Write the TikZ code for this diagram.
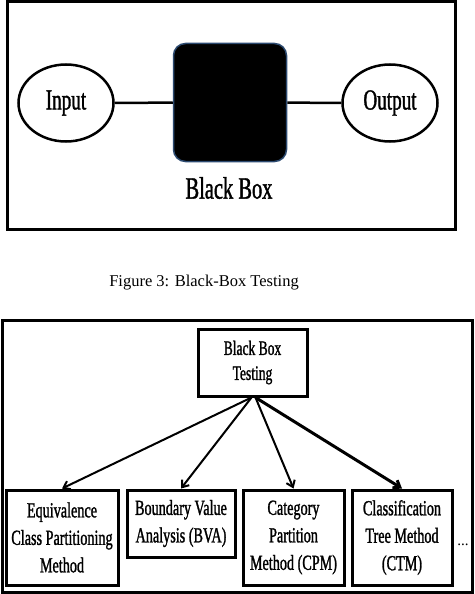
\documentclass[tikz,border=0pt]{standalone}
\usepackage{fontspec}
\setmainfont{Liberation Serif}
\newfontfamily\narrowfont{Liberation Serif}[FakeStretch=0.66,FakeBold=1.2]
\usepackage{xcolor}
\usetikzlibrary{shapes.geometric,arrows.meta}
\definecolor{bbedge}{RGB}{44,74,112}

\begin{document}
\begin{tikzpicture}[x=1pt,y=-1pt,
frame/.style={draw,line width=3pt},
port/.style={ellipse,draw,line width=2.5pt,minimum width=95pt,minimum height=77pt,inner sep=0pt,
  font=\narrowfont\fontsize{29}{33}\selectfont},
method/.style={draw,line width=3pt,inner sep=0pt,align=center,
  font=\narrowfont\fontsize{21.5}{27.5}\selectfont},
link/.style={-{Straight Barb[length=6pt,width=9pt]},line width=2pt}
]
\useasboundingbox (0,0) rectangle (474,594);
\draw[frame] (7,2) rectangle (455,229);
\node[port] (input) at (66,103) {Input};
\node[port] (output) at (390,103) {Output};
\node[draw=bbedge,fill=black,line width=1.5pt,rounded corners=12pt,
  minimum width=113pt,minimum height=118pt] (bb) at (230,102.5) {};
\node[font=\narrowfont\fontsize{31}{35}\selectfont] (bblabel) at (229,188) {Black Box};
\draw[line width=2.5pt] (input) -- (bb);
\draw[line width=2.5pt] (bb) -- (output);
\node[font=\fontsize{16.5}{19}\selectfont] (caption) at (204,283) {Figure 3: Black-Box Testing};
\draw[frame] (2.5,320) rectangle (472.5,592.5);
\node[method,minimum width=109pt,minimum height=67pt,
  font=\narrowfont\fontsize{20.5}{25}\selectfont] (bbt) at (252.5,362.5) {Black Box\\Testing};
\node[method,minimum width=112pt,minimum height=95pt] (ecp) at (62,537.5) {Equivalence\\Class Partitioning\\Method};
\node[method,minimum width=108pt,minimum height=67pt] (bva) at (181,523.5) {Boundary Value\\Analysis (BVA)};
\node[method,minimum width=101pt,minimum height=95pt] (cpm) at (293.5,537.5) {Category\\Partition\\Method (CPM)};
\node[method,minimum width=100pt,minimum height=95pt] (ctm) at (402,537.5) {Classification\\Tree Method\\(CTM)};
\node[anchor=base,font=\fontsize{15}{18}\selectfont] (more) at (463,545) {...};
\draw[link] ([xshift=-1pt]bbt.south) -- (ecp.north);
\draw[link] ([xshift=-1pt]bbt.south) -- (bva.north);
\draw[link] ([xshift=3pt]bbt.south) -- (cpm.north);
\draw[link,line width=3pt] ([xshift=3pt]bbt.south) -- (ctm.north);
\end{tikzpicture}
\end{document}
